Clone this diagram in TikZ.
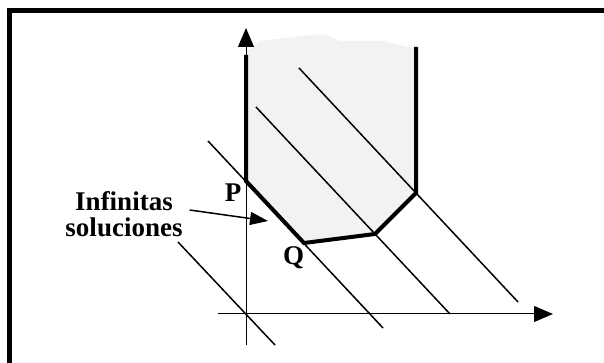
\documentclass[tikz,border=0pt]{standalone}
\usepackage{fontspec}
\setmainfont{Liberation Serif}
\usetikzlibrary{arrows.meta}

\begin{document}
\begin{tikzpicture}[x=5pt, y=5pt,
        achse/.style={line width=0.5pt, -{Triangle[length=9.5pt,width=8pt]}},
        gerade/.style={line width=0.75pt},
        rand/.style={line width=2pt},
        beschr/.style={font=\bfseries\fontsize{13.5}{12.75}\selectfont}]
        \useasboundingbox (0,0) rectangle (60.4,36.3);

        % Rahmen
        \draw[line width=2.5pt] (0.95,35.25) rectangle (64,-4);

        % Eckpunkte
        \coordinate (O) at (24.6,4.9);
        \coordinate (P) at (24.6,18.2);
        \coordinate (Q) at (30.4,12.0);
        \coordinate (M) at (37.5,12.9);
        \coordinate (R) at (41.6,17.0);

        % zulaessiger Bereich
        \fill[black!5] (P) -- (24.6,31.0) -- (26.0,32.2) -- (32.0,32.9) -- (32.7,32.8)
            -- (34.0,32.2) -- (38.3,32.2) -- (41.6,31.4) -- (R) -- (M) -- (Q) -- cycle;

        % Geraden
        \draw[gerade] (17.8,12.1) -- (27.5,1.8); % durch O
        \draw[gerade] (20.8,22.2) -- (38.3,3.5); % durch P und Q
        \draw[gerade] (25.6,25.6) -- (45.0,4.9); % durch M
        \draw[gerade] (29.9,29.5) -- (51.8,6.1); % durch R

        % Achsen
        \draw[achse] (21.8,4.9) -- (55.3,4.9); % x-Achse
        \draw[achse] (24.6,1.8) -- (24.6,33.5); % y-Achse

        % Rand des Bereichs
        \draw[rand] (24.6,30.8) -- (P) -- (Q) -- (M) -- (R) -- (41.6,31.6);

        % Beschriftungen
        \node[beschr, anchor=base] (p) at (23.3,16.1) {P};
        \node[beschr, anchor=base] (q) at (29.35,9.8) {Q};
        \node[beschr, align=center] (inf) at (12.4,14.9) {Infinitas\\soluciones};
        \coordinate (pfeil) at (26.8,14.2);

        \draw[line width=0.75pt, -{Triangle[length=9pt,width=6.5pt]}] ([yshift=2pt]inf.east) -- (pfeil); % Pfeil
    \end{tikzpicture}
\end{document}
